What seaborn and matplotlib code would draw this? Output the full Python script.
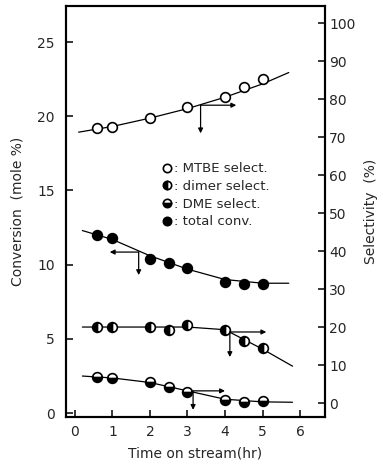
import numpy as np
import pandas as pd
import matplotlib
matplotlib.use("Agg")
import matplotlib.pyplot as plt
import seaborn as sns
from matplotlib.lines import Line2D

# ---------------- data ----------------
time_pts = [0.6, 1.0, 2.0, 2.5, 3.0, 4.0, 4.5, 5.0]
mtbe_time = [0.6, 1.0, 2.0, 3.0, 4.0, 4.5, 5.0]
mtbe_sel = [72.4, 72.6, 75.0, 77.9, 80.5, 83.2, 85.3]          # selectivity (%)
total_conv = [12.0, 11.8, 10.4, 10.1, 9.8, 8.8, 8.7, 8.7]      # conversion (mole %)
dimer_sel = [20.0, 20.0, 20.0, 19.2, 20.5, 19.2, 16.3, 14.5]   # selectivity (%)
dme_sel = [6.8, 6.6, 5.5, 4.2, 2.9, 0.8, 0.3, 0.5]             # selectivity (%)

# smoothed trend lines
mtbe_fit_t = [0.1, 1.0, 2.0, 3.0, 4.0, 5.0, 5.7]
mtbe_fit_v = [71.3, 72.8, 75.0, 77.5, 80.5, 84.0, 87.0]
total_fit_t = [0.2, 1.0, 2.0, 3.0, 4.0, 5.0, 5.7]
total_fit_v = [12.3, 11.7, 10.6, 9.7, 9.0, 8.75, 8.75]
dimer_fit_t = [0.2, 3.0, 4.0, 5.0, 5.8]
dimer_fit_v = [20.0, 20.0, 19.3, 14.2, 9.7]
dme_fit_t = [0.2, 1.0, 2.0, 3.0, 4.0, 5.0, 5.8]
dme_fit_v = [7.1, 6.6, 5.4, 3.2, 1.0, 0.3, 0.2]

# axis-indicator arrows: (corner time, corner value, horizontal end time, vertical end value)
mtbe_arrow = (3.35, 78.4, 4.3, 71.0)
total_arrow = (1.7, 10.85, 0.93, 9.3)
dimer_arrow = (4.13, 18.7, 5.1, 12.1)
dme_arrow = (3.15, 3.2, 4.0, -1.8)

legend_labels = [": MTBE select.", ": dimer select.", ": DME select.", ": total conv."]
x_ticks = [0, 1, 2, 3, 4, 5, 6]
left_ticks = [0, 5, 10, 15, 20, 25]
right_ticks = [0, 10, 20, 30, 40, 50, 60, 70, 80, 90, 100]

# ---------------- style ----------------
sns.set_theme(style="ticks")
plt.rcParams["font.family"] = ["DejaVu Sans"]
plt.rcParams["axes.linewidth"] = 1.5

fig = plt.figure(figsize=(3.83, 4.66), dpi=100)
ax = fig.add_axes([0.172, 0.105, 0.677, 0.882])
ax2 = ax.twinx()

ax.set_xlim(-0.24, 6.67)
ax.set_ylim(-0.27, 27.43)
ax2.set_ylim(-3.7, 104.5)

MS = 7.0
MEW = 1.2
LW = 0.9

common = dict(color="black", linestyle="none", marker="o", markersize=MS,
              markeredgecolor="black", markeredgewidth=MEW,
              estimator=None, errorbar=None, sort=False, legend=False)

# trend lines
sns.lineplot(x=mtbe_fit_t, y=mtbe_fit_v, ax=ax2, color="black", lw=LW,
             estimator=None, errorbar=None, sort=False, legend=False)
sns.lineplot(x=total_fit_t, y=total_fit_v, ax=ax, color="black", lw=LW,
             estimator=None, errorbar=None, sort=False, legend=False)
sns.lineplot(x=dimer_fit_t, y=dimer_fit_v, ax=ax2, color="black", lw=LW,
             estimator=None, errorbar=None, sort=False, legend=False)
sns.lineplot(x=dme_fit_t, y=dme_fit_v, ax=ax2, color="black", lw=LW,
             estimator=None, errorbar=None, sort=False, legend=False)

# markers
sns.lineplot(x=mtbe_time, y=mtbe_sel, ax=ax2, markerfacecolor="white", **common)
sns.lineplot(x=time_pts, y=total_conv, ax=ax, markerfacecolor="black", **common)
sns.lineplot(x=time_pts, y=dimer_sel, ax=ax2, markerfacecolor="black",
             markerfacecoloralt="white", fillstyle="left", **common)
sns.lineplot(x=time_pts, y=dme_sel, ax=ax2, markerfacecolor="black",
             markerfacecoloralt="white", fillstyle="bottom", **common)

# arrows
aprops = dict(arrowstyle="-|>", color="black", lw=0.9, mutation_scale=7,
              shrinkA=0, shrinkB=0)
def draw_arrows(axis, spec):
    t0, v0, t1, v1 = spec
    axis.annotate("", xy=(t1, v0), xytext=(t0, v0), arrowprops=aprops)
    axis.annotate("", xy=(t0, v1), xytext=(t0, v0), arrowprops=aprops)

draw_arrows(ax2, mtbe_arrow)
draw_arrows(ax, total_arrow)
draw_arrows(ax2, dimer_arrow)
draw_arrows(ax2, dme_arrow)

# ticks / labels
FS = 10
ax.set_xticks(x_ticks)
ax.set_yticks(left_ticks)
ax2.set_yticks(right_ticks)
ax.tick_params(axis="both", direction="in", length=5, width=1.3, labelsize=FS,
               top=False, right=False, pad=6)
ax.tick_params(axis="y", pad=8)
ax2.tick_params(axis="y", direction="in", length=5, width=1.3, labelsize=FS, pad=3)
for a in (ax, ax2):
    for s in a.spines.values():
        s.set_visible(True)
        s.set_linewidth(1.5)
        s.set_color("black")
    a.grid(False)

ax.set_xlabel("Time on stream(hr)", fontsize=FS, labelpad=5)
ax.set_ylabel("Conversion  (mole %)", fontsize=FS, labelpad=9)
ax2.set_ylabel("Selectivity  (%)", fontsize=FS, labelpad=6, rotation=90)

# legend
handles = [
    Line2D([], [], linestyle="none", marker="o", markersize=6, markerfacecolor="white",
           markeredgecolor="black", markeredgewidth=MEW),
    Line2D([], [], linestyle="none", marker="o", markersize=6, markerfacecolor="black",
           markerfacecoloralt="white", fillstyle="left", markeredgecolor="black",
           markeredgewidth=MEW),
    Line2D([], [], linestyle="none", marker="o", markersize=6, markerfacecolor="black",
           markerfacecoloralt="white", fillstyle="bottom", markeredgecolor="black",
           markeredgewidth=MEW),
    Line2D([], [], linestyle="none", marker="o", markersize=6, markerfacecolor="black",
           markeredgecolor="black", markeredgewidth=MEW),
]
ax2.legend(handles, legend_labels, loc="upper left", bbox_to_anchor=(0.37, 0.62),
           frameon=False, fontsize=9.5, handlelength=0.8, handletextpad=0.1,
           labelspacing=0.36, borderpad=0, borderaxespad=0)

fig.savefig("out.png", dpi=100)
